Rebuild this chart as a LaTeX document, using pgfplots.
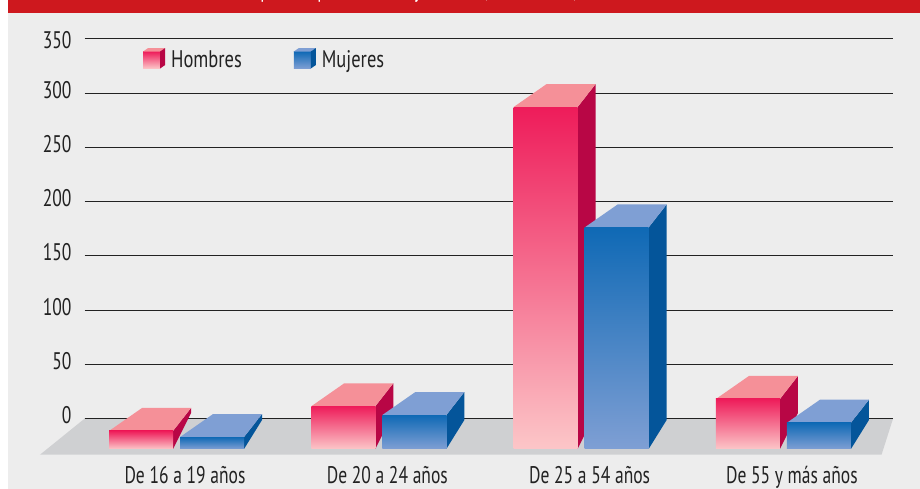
\documentclass[border=0pt]{standalone}
\usepackage{fontspec}
\setmainfont[FakeStretch=0.73]{PT Sans}
\newfontfamily\legf[FakeStretch=0.77]{PT Sans}
\usepackage{pgfplots}
\pgfplotsset{compat=1.18}
\definecolor{bgc}{HTML}{EDEDED}
\definecolor{band}{HTML}{CE181E}
\definecolor{floorc}{HTML}{CFD0D2}
\definecolor{gridc}{HTML}{222222}
\definecolor{txt}{HTML}{222222}
\definecolor{Hfrontt}{HTML}{EE1C5A}
\definecolor{Hfrontb}{HTML}{FCC6C8}
\definecolor{Htop}{HTML}{F59098}
\definecolor{Hside}{HTML}{B80645}
\definecolor{Mfrontt}{HTML}{0F69B5}
\definecolor{Mfrontb}{HTML}{7F9FD4}
\definecolor{Mtop}{HTML}{7F9FD4}
\definecolor{Mside}{HTML}{04559A}
% #1 category position, #2 value, #3 colour prefix, #4 left offset, #5 height of side back foot
\newcommand{\caja}[5]{%
  \addplot[forget plot,draw=none,fill=#3side,yshift=-30.3pt] coordinates
    {({#1+#4+0.3164},0) ({#1+#4+0.3164},#2) ({#1+#4+0.4054},{#2+21.2}) ({#1+#4+0.4054},#5)} -- cycle;
  \addplot[forget plot,draw=none,fill=#3top,yshift=-30.3pt] coordinates
    {({#1+#4},#2) ({#1+#4+0.1631},{#2+21.2}) ({#1+#4+0.4054},{#2+21.2}) ({#1+#4+0.3164},#2)} -- cycle;
  \addplot[forget plot,ybar,bar width=64pt,bar shift=0pt,draw=none,
    top color=#3frontt,bottom color=#3frontb,yshift=-30.3pt] coordinates {({#1+#4+0.1582},#2)};
}
\newcommand{\hombres}[2]{\caja{#1}{#2}{H}{-0.3757}{33.2}}
\newcommand{\mujeres}[2]{\caja{#1}{#2}{M}{-0.0247}{26.7}}
\newcommand{\leyenda}[1]{%
  \path[draw=none,top color=#1frontt,bottom color=#1frontb] (0pt,-8.5pt) rectangle (17pt,8.5pt);
  \path[draw=none,fill=#1top] (0pt,8.5pt) -- (5pt,12pt) -- (22pt,12pt) -- (17pt,8.5pt) -- cycle;
  \path[draw=none,fill=#1side] (17pt,-8.5pt) -- (17pt,8.5pt) -- (22pt,12pt) -- (22pt,-5pt) -- cycle;
}
\begin{document}
\begin{tikzpicture}[x=1pt,y=1pt]
\path[use as bounding box] (0,0) rectangle (920,489);
\fill[white] (0,0) rectangle (920,489);
\fill[bgc] (8,0) rectangle (920,489);
\fill[band] (8,476) rectangle (920,489);
\begin{scope}
\clip (8,476) rectangle (920,489);
\foreach \px/\ch in {265/p,322/p,418/y,487/{,},575/{,}}
  \node[white,font=\fontsize{24}{24}\selectfont,anchor=base,inner sep=0pt] at (\px,491) {\ch};
\end{scope}
\begin{axis}[
  at={(84.5pt,70.3pt)},anchor=south west,
  scale only axis,width=808.5pt,height=379.7pt,
  xmin=-0.4968,xmax=3.4997,ymin=0,ymax=350,
  clip=false,
  axis line style={draw=none},
  tick style={draw=none},
  ymajorgrids,
  grid style={gridc,line width=1pt},
  ytick={0,50,100,150,200,250,300,350},
  yticklabels={0,50,100,150,200,250,300,\raisebox{-4.5pt}[\height][\depth]{350}},
  xtick={0,1,2,3},
  xticklabels={De 16 a 19 años,De 20 a 24 años,De 25 a 54 años,De 55 y más años},
  /pgf/number format/assume math mode=true,
  tick label style={font=\fontsize{24}{26}\selectfont,text=txt},
  yticklabel style={anchor=east,xshift=-9.5pt,yshift=3.5pt},
  xticklabel style={anchor=base,yshift=-65pt},
  legend style={at={(rel axis cs:0.0685,0.982)},anchor=north west,draw=none,fill=none,
    font=\legf\fontsize{24}{26}\selectfont,text=txt,legend columns=2,
    /tikz/every even column/.append style={column sep=22pt}},
  legend cell align=left,
]
\addplot[forget plot,draw=none,fill=floorc] coordinates
  {(-0.4968,0) (3.4997,0) (3.443,-33.2) (-0.7168,-33.2)} -- cycle;
\draw[gridc,line width=1pt] (axis cs:-0.4968,0) -- (axis cs:3.4997,0);
\hombres{0}{16.6}\mujeres{0}{11}
\hombres{1}{39.4}\mujeres{1}{31.3}
\hombres{2}{315.2}\mujeres{2}{204.2}
\hombres{3}{46.1}\mujeres{3}{24.2}
\addlegendimage{legend image code/.code={\leyenda{H}}}
\addlegendentry{\hspace*{4pt}Hombres\hspace*{28pt}}
\addlegendimage{legend image code/.code={\leyenda{M}}}
\addlegendentry{\hspace*{4pt}Mujeres}
\end{axis}
\end{tikzpicture}
\end{document}
